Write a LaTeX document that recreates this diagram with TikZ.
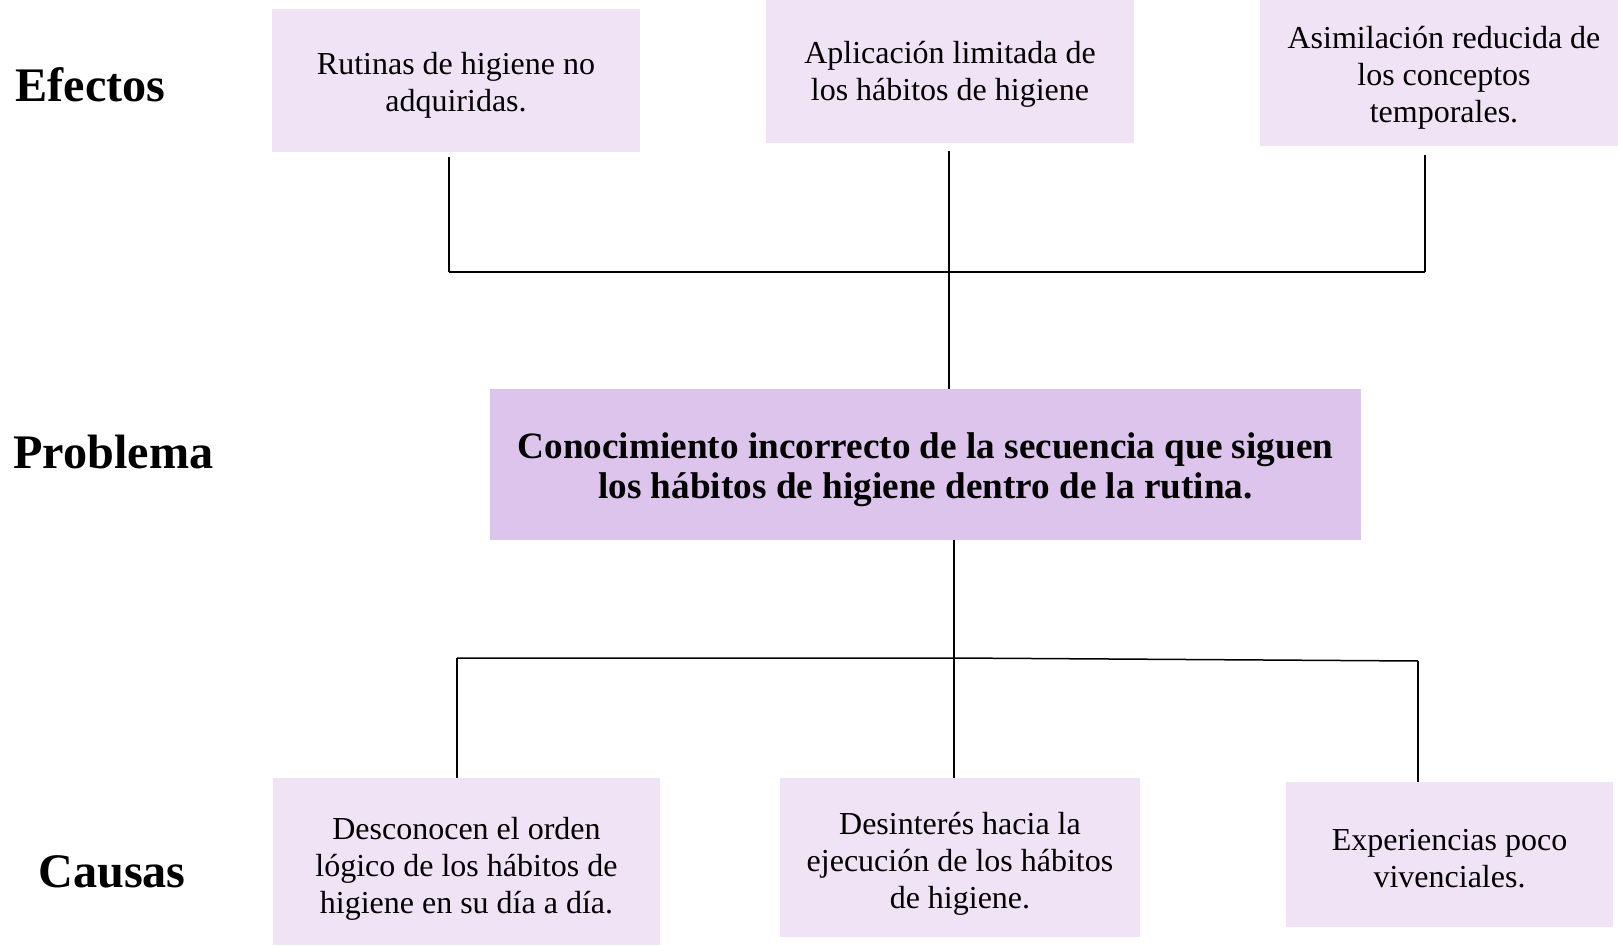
\documentclass[tikz,border=0pt]{standalone}
\usepackage{fontspec}
\setmainfont{Liberation Serif}
\definecolor{boxlight}{HTML}{EFE3F5}
\definecolor{boxmain}{HTML}{DDC4EC}
\begin{document}
\begin{tikzpicture}[x=0.5pt,y=-0.5pt,
  smallbox/.style={fill=boxlight, draw=none, inner sep=0pt},
  mainbox/.style={fill=boxmain, draw=none, inner sep=0pt},
  smalltxt/.style={inner sep=0pt, align=center, font=\fontsize{16}{18.5}\selectfont},
  maintxt/.style={inner sep=0pt, align=center, font=\bfseries\fontsize{18.6}{20.3}\selectfont},
  lbl/.style={anchor=west, inner sep=0pt, font=\bfseries\fontsize{24.1}{26}\selectfont},
  conn/.style={draw=black, line width=0.75pt}]
\useasboundingbox (0,0) rectangle (1618,946);
% labels
\node[lbl] (lef) at (15,85) {Efectos};
\node[lbl] (lpr) at (13,452) {Problema};
\node[lbl] (lca) at (38,872) {Causas};
% effect boxes
\node[smallbox, minimum width=184pt, minimum height=71.5pt] (e1) at (456,80.5) {};
\node[smalltxt] (e1t) at ([yshift=-2.6pt]e1.center)
  {Rutinas de higiene no\\adquiridas.};
\node[smallbox, minimum width=184pt, minimum height=71.5pt] (e2) at (950,71.5) {};
\node[smalltxt] (e2t) at ([yshift=-1.6pt]e2.center)
  {Aplicación limitada de\\los hábitos de higiene};
\node[smallbox, minimum width=179pt, minimum height=73pt] (e3) at (1439,73) {};
\node[smalltxt] (e3t) at ([xshift=2.5pt,yshift=-2.6pt]e3.center)
  {Asimilación reducida de\\los conceptos\\temporales.};
% problem
\node[mainbox, minimum width=435.5pt, minimum height=75.5pt] (main) at (925.5,464.5) {};
\node[maintxt] (maint) at ([yshift=-2.7pt]main.center)
  {Conocimiento incorrecto de la secuencia que siguen\\los hábitos de higiene dentro de la rutina.};
% cause boxes
\node[smallbox, minimum width=193.5pt, minimum height=83.5pt] (c1) at (466.5,861.5) {};
\node[smalltxt] (c1t) at ([yshift=-3.5pt]c1.center)
  {Desconocen el orden\\lógico de los hábitos de\\higiene en su día a día.};
\node[smallbox, minimum width=180pt, minimum height=79.5pt] (c2) at (960,857.5) {};
\node[smalltxt] (c2t) at ([yshift=-3.1pt]c2.center)
  {Desinterés hacia la\\ejecución de los hábitos\\de higiene.};
\node[smallbox, minimum width=163.5pt, minimum height=72.5pt] (c3) at (1449.5,854.5) {};
\node[smalltxt] (c3t) at ([yshift=-2.1pt]c3.center)
  {Experiencias poco\\vivenciales.};
% top connectors
\coordinate (t1) at (449,272);
\coordinate (t2) at (949,272);
\coordinate (t3) at (1425,272);
\draw[conn] (e1.south -| t1) ++(0,5) -- (t1);
\draw[conn] (e3.south -| t3) ++(0,9) -- (t3);
\draw[conn] (t1) -- (t3);
\draw[conn] (e2.south -| t2) ++(0,8) -- (t2) -- (t2 |- main.north);
% bottom connectors
\coordinate (b1) at (457,658);
\coordinate (b2) at (954,658);
\coordinate (b3) at (1418,661);
\draw[conn] (main.south -| b2) -- (b2);
\draw[conn] (b1) -- (b2) -- (b3);
\draw[conn] (b1) -- (b1 |- c1.north);
\draw[conn] (b2) -- (b2 |- c2.north);
\draw[conn] (b3) -- (b3 |- c3.north);
\end{tikzpicture}
\end{document}
